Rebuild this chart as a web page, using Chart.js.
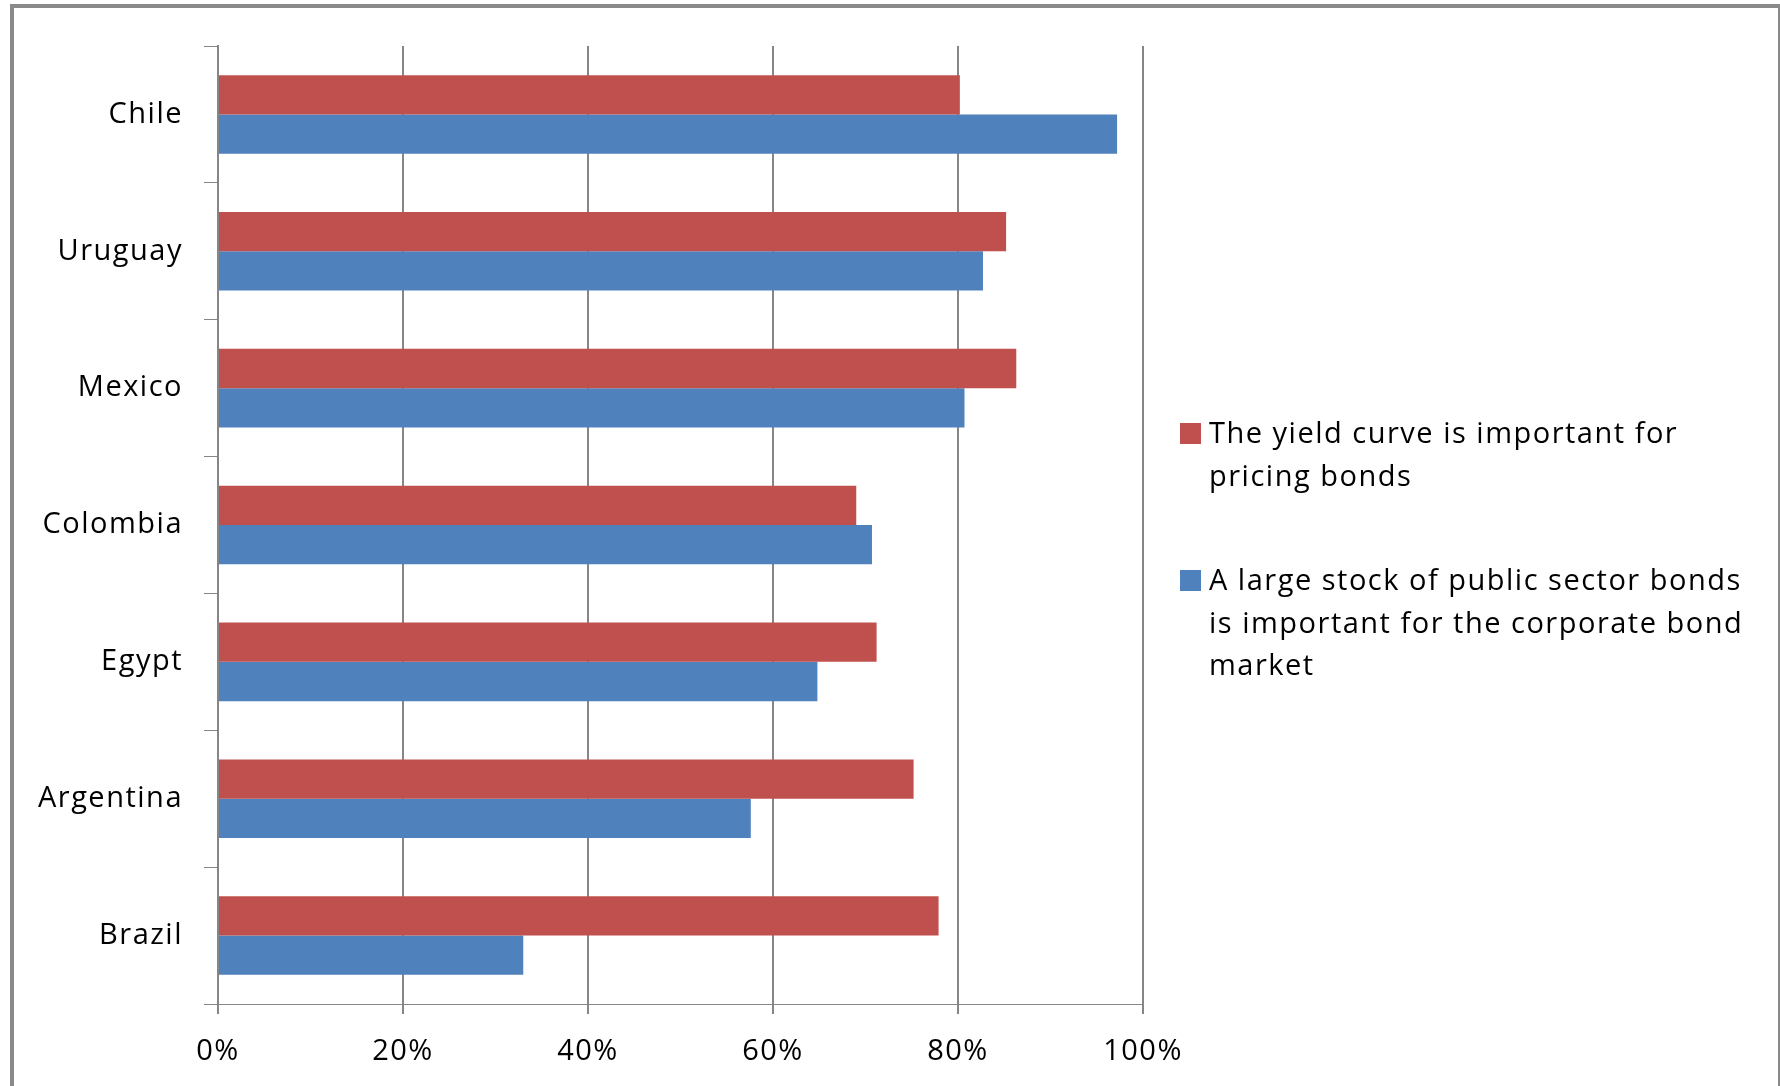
<!DOCTYPE html>
<html>
<head>
<meta charset="utf-8">
<script src="https://cdn.jsdelivr.net/npm/chart.js@4"></script>
<style>
  html, body { margin: 0; padding: 0; background: #fff; overflow: hidden; }
  .wrap { position: relative; width: 1780px; height: 1086px; }
  .frame { position: absolute; left: 10px; top: 4px; right: 0; bottom: -20px;
           border-left: 4px solid #898989; border-top: 4px solid #898989; border-right: 2px solid #898989;
           pointer-events: none; }
  #bondChart { position: absolute; left: 0; top: 0; }
  .legend { position: absolute; left: 1180px; top: 0; font-family: "Open Sans", sans-serif;
            font-size: 29px; line-height: 42.5px; letter-spacing: 1.5px; color: #000; }
  .legend .item { position: absolute; left: 0; white-space: nowrap; }
  .legend .box { position: absolute; left: 0; top: 12px; width: 21px; height: 21px; }
  .legend .txt { position: absolute; left: 29px; top: 0; }
</style>
</head>
<body>
<div class="wrap">
  <canvas id="bondChart" width="1780" height="1086"></canvas>
  <div class="legend" id="legend"></div>
  <div class="frame"></div>
</div>
<script>
// categories, top to bottom
const countries = ['Chile', 'Uruguay', 'Mexico', 'Colombia', 'Egypt', 'Argentina', 'Brazil'];

// share of respondents (%)
const yieldCurve = [80.2, 85.2, 86.3, 69.0, 71.2, 75.2, 77.9];
const publicStock = [97.2, 82.7, 80.7, 70.7, 64.8, 57.6, 33.0];

// legend text, split the way the original wraps it
const seriesNames = [
  ['The yield curve is important for', 'pricing bonds'],
  ['A large stock of public sector bonds', 'is important for the corporate bond', 'market']
];
const seriesColors = ['#C0504D', '#4F81BD'];

const xTicks = [0, 20, 40, 60, 80, 100];

const font = { family: '"Open Sans", sans-serif', size: 29 };
const axisColor = '#868686';

// the original text is set a bit wider, canvas needs letterSpacing re-applied after resets
const spacing = {
  id: 'spacing',
  beforeLayout: (chart) => { chart.ctx.letterSpacing = '1.5px'; },
  beforeDraw: (chart) => { chart.ctx.letterSpacing = '1.5px'; }
};

new Chart(document.getElementById('bondChart'), {
  type: 'bar',
  data: {
    labels: countries,
    datasets: [
      { label: seriesNames[0].join(' '), data: yieldCurve, backgroundColor: seriesColors[0] },
      { label: seriesNames[1].join(' '), data: publicStock, backgroundColor: seriesColors[1] }
    ]
  },
  options: {
    indexAxis: 'y',
    responsive: false,
    animation: false,
    categoryPercentage: 0.574,
    barPercentage: 1,
    layout: { padding: { left: 0, top: 46, right: 637, bottom: 0 } },
    plugins: {
      legend: { display: false },
      tooltip: { enabled: false }
    },
    scales: {
      x: {
        min: 0,
        max: 100,
        afterFit: (scale) => { scale.height = 82; },
        afterBuildTicks: (scale) => { scale.ticks = xTicks.map(v => ({ value: v })); },
        ticks: { font: font, color: '#000', padding: 20, callback: (v) => v + '%' },
        grid: { color: axisColor, lineWidth: 2, tickLength: 10 },
        border: { color: axisColor, width: 1 }
      },
      y: {
        afterFit: (scale) => { scale.width = 218; },
        ticks: { font: font, color: '#000', padding: 21 },
        grid: { offset: true, drawOnChartArea: false, color: axisColor, lineWidth: 1, tickLength: 14 },
        border: { color: axisColor, width: 2 }
      }
    }
  },
  plugins: [spacing]
});

// legend on the right, built from the same series lists
const legendTops = [411, 558];
const legendEl = document.getElementById('legend');
seriesNames.forEach((lines, i) => {
  const item = document.createElement('div');
  item.className = 'item';
  item.style.top = legendTops[i] + 'px';
  const box = document.createElement('div');
  box.className = 'box';
  box.style.background = seriesColors[i];
  const txt = document.createElement('div');
  txt.className = 'txt';
  txt.innerHTML = lines.join('<br>');
  item.appendChild(box);
  item.appendChild(txt);
  legendEl.appendChild(item);
});
</script>
</body>
</html>
